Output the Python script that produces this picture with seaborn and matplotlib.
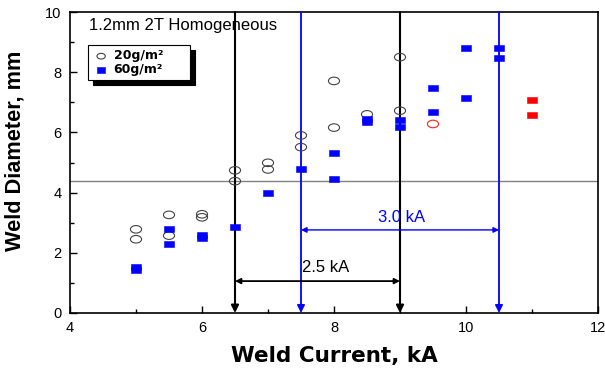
import matplotlib
matplotlib.use("Agg")
import matplotlib.pyplot as plt
from matplotlib.path import Path
from matplotlib.transforms import Affine2D
import seaborn as sns
import pandas as pd

# ---- data ----
c20_x = [5, 5, 5.5, 5.5, 6, 6, 6.5, 6.5, 7, 7, 7.5, 7.5, 8, 8, 8.5, 9, 9]
c20_y = [2.78, 2.45, 3.26, 2.57, 3.28, 3.18, 4.74, 4.38, 4.99, 4.77,
         5.90, 5.51, 7.71, 6.16, 6.60, 8.50, 6.72]
s60_x = [5, 5, 5.5, 5.5, 6, 6, 6.5, 7, 7.5, 8, 8, 8.5, 8.5, 9, 9,
         9.5, 9.5, 10, 10, 10.5, 10.5]
s60_y = [1.43, 1.53, 2.79, 2.29, 2.50, 2.60, 2.87, 3.98, 4.78, 5.32, 4.45,
         6.36, 6.46, 6.41, 6.19, 7.46, 6.69, 8.81, 7.13, 8.79, 8.48]
red_c_x = [9.5]
red_c_y = [6.28]
red_s_x = [11, 11]
red_s_y = [7.08, 6.58]

threshold = 4.4
black_range = [6.5, 9.0]
blue_range = [7.5, 10.5]
black_label = "2.5 kA"
blue_label = "3.0 kA"
legend_labels = ["20g/m²", "60g/m²"]
xticks = [4, 6, 8, 10, 12]
yticks = [0, 2, 4, 6, 8, 10]

sns.set_style("ticks")
plt.rcParams["font.family"] = ["Liberation Sans", "DejaVu Sans"]
plt.rcParams.update({"text.color": "black", "axes.labelcolor": "black",
                     "xtick.color": "black", "ytick.color": "black"})

# flattened marker shapes (the reference is slightly squashed vertically)
ellipse = Path.unit_circle().transformed(Affine2D().scale(1.0, 0.68))
rect = [(-1, -0.7), (1, -0.7), (1, 0.7), (-1, 0.7), (-1, -0.7)]

fig = plt.figure(figsize=(6.05, 3.68), dpi=100)
ax = fig.add_axes([70 / 605, (368 - 313) / 368, 528 / 605, 301 / 368])

df20 = pd.DataFrame({"x": c20_x, "y": c20_y})
df60 = pd.DataFrame({"x": s60_x, "y": s60_y})
dfrc = pd.DataFrame({"x": red_c_x, "y": red_c_y})
dfrs = pd.DataFrame({"x": red_s_x, "y": red_s_y})

sns.scatterplot(data=df20, x="x", y="y", ax=ax, marker=ellipse, s=64,
                facecolor="none", edgecolor="#444444", linewidth=0.8,
                label=legend_labels[0], zorder=5)
sns.scatterplot(data=df60, x="x", y="y", ax=ax, marker=rect, s=50,
                color="#0000ff", edgecolor="#0000ff", linewidth=0.4,
                label=legend_labels[1], zorder=5)
sns.scatterplot(data=dfrc, x="x", y="y", ax=ax, marker=ellipse, s=64,
                facecolor="none", edgecolor="#ff2020", linewidth=0.8,
                zorder=5, legend=False)
sns.scatterplot(data=dfrs, x="x", y="y", ax=ax, marker=rect, s=50,
                color="#ff0000", edgecolor="#ff0000", linewidth=0.4,
                zorder=5, legend=False)

# threshold line
ax.axhline(threshold, color="#808080", lw=1.0, zorder=2)

# vertical lines with arrowheads at bottom
for xv in black_range:
    ax.annotate("", xy=(xv, 0), xytext=(xv, 10),
                arrowprops=dict(arrowstyle="-|>", color="black", lw=1.5,
                                mutation_scale=11, shrinkA=0, shrinkB=0),
                zorder=3)
for xv in blue_range:
    ax.annotate("", xy=(xv, 0), xytext=(xv, 10),
                arrowprops=dict(arrowstyle="-|>", color="#0000ff", lw=1.3,
                                mutation_scale=11, shrinkA=0, shrinkB=0),
                zorder=3)

# horizontal range arrows
ax.annotate("", xy=(black_range[0], 1.06), xytext=(black_range[1], 1.06),
            arrowprops=dict(arrowstyle="<|-|>", color="black", lw=1.3,
                            mutation_scale=8, shrinkA=0, shrinkB=0))
ax.annotate("", xy=(blue_range[0], 2.76), xytext=(blue_range[1], 2.76),
            arrowprops=dict(arrowstyle="<|-|>", color="#0000ff", lw=1.0,
                            mutation_scale=8, shrinkA=0, shrinkB=0))
ax.text(7.88, 1.52, black_label, fontsize=12, color="black",
        ha="center", va="center")
ax.text(9.03, 3.17, blue_label, fontsize=12, color="#0000ff",
        ha="center", va="center")

ax.text(0.036, 0.955, "1.2mm 2T Homogeneous", transform=ax.transAxes,
        fontsize=12, ha="left", va="center")

ax.set_xlim(4, 12)
ax.set_ylim(0, 10)
ax.set_xticks(xticks)
ax.set_yticks(yticks)
ax.set_xticks([5, 7, 9, 11], minor=True)
ax.set_yticks([1, 3, 5, 7, 9], minor=True)
ax.tick_params(which="major", direction="in", length=5, width=1,
               labelsize=10.5, pad=6, top=False, right=False)
ax.tick_params(which="minor", direction="in", length=3, width=1,
               top=False, right=False)
for sp in ax.spines.values():
    sp.set_visible(True)
    sp.set_linewidth(1.2)
    sp.set_color("black")

ax.set_xlabel("Weld Current, kA", fontsize=15.5, fontweight="bold",
              family="DejaVu Sans", labelpad=8)
ax.set_ylabel("Weld Diameter, mm", fontsize=15.7, fontweight="bold")
ax.yaxis.set_label_coords(-0.085, 0.54)

leg = ax.legend(loc="upper left", bbox_to_anchor=(0.0341, 0.5, 0.193, 0.39),
                mode="expand", frameon=True, fancybox=False,
                edgecolor="black", framealpha=1, borderaxespad=0,
                shadow={"ox": 3.6, "oy": -3.6, "shade": 1, "alpha": 1},
                prop={"family": ["DejaVu Sans"], "weight": "bold", "size": 9},
                handletextpad=0.3, borderpad=0.35, labelspacing=0.05,
                handlelength=1.4, markerscale=0.75)
leg.get_frame().set_linewidth(0.8)

fig.savefig("out.png", dpi=100)
